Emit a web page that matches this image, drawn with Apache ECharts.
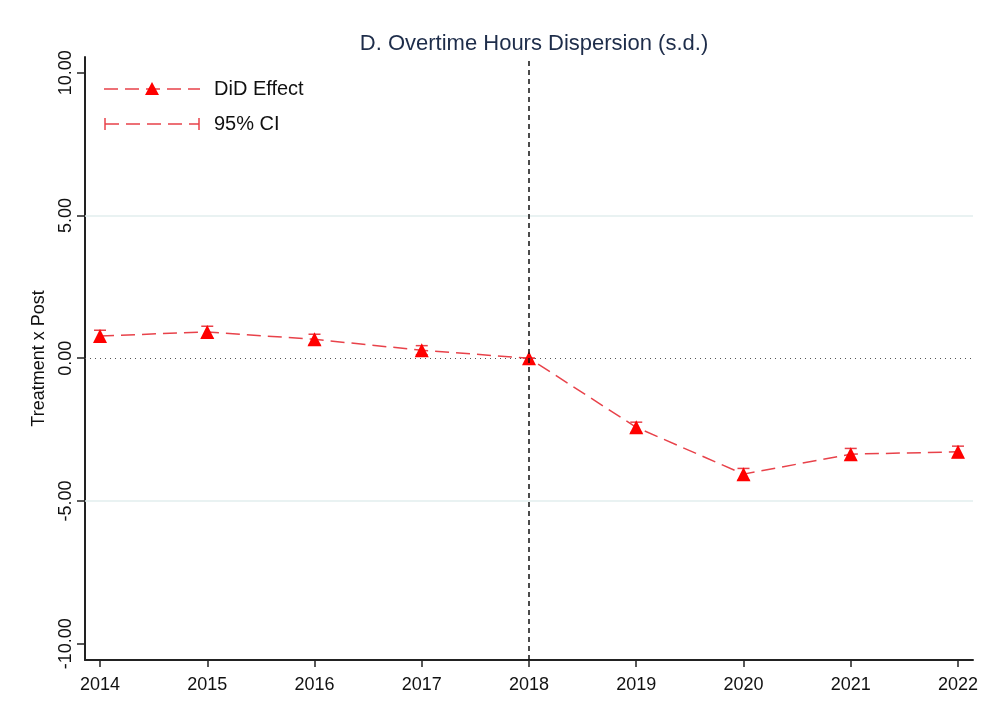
<!DOCTYPE html>
<html><head><meta charset="utf-8">
<script src="https://cdn.jsdelivr.net/npm/echarts@6/dist/echarts.min.js"></script>
<style>html,body{margin:0;padding:0;background:#fff}#c{width:1000px;height:727px}</style>
</head><body><div id="c"></div>
<script>
const years = [2014, 2015, 2016, 2017, 2018, 2019, 2020, 2021, 2022];
const effect = [0.78, 0.92, 0.66, 0.28, 0.0, -2.42, -4.06, -3.36, -3.28];
const ciLow = [0.58, 0.72, 0.48, 0.12, 0.0, -2.60, -4.26, -3.56, -3.48];
const ciHigh = [0.98, 1.12, 0.84, 0.44, 0.0, -2.24, -3.86, -3.16, -3.08];
const yTicks = [-10, -5, 0, 5, 10];
const titleText = 'D. Overtime Hours Dispersion (s.d.)';
const yName = 'Treatment x Post';
const legendNames = ['DiD Effect', '95% CI'];

const lineRed = '#e8424a';
const markRed = '#ff0000';
const FF = 'Arial, Liberation Sans';

const chart = echarts.init(document.getElementById('c'));
const ciData = years.map((y, i) => [y, ciLow[i], ciHigh[i]]);
chart.setOption({
  animation: false,
  title: { text: titleText, left: 529, top: 28, textAlign: 'center',
    textStyle: { fontFamily: FF, fontSize: 22, fontWeight: 'normal', color: '#1e2d4a' } },
  grid: { left: 85, right: 27, top: 57, bottom: 67 },
  xAxis: {
    type: 'value', min: 2013.86, max: 2022.14,
    axisLine: { show: true, onZero: false, lineStyle: { color: '#222', width: 2 } },
    axisTick: { show: true, customValues: years, length: 7, lineStyle: { color: '#222', width: 1.5 } },
    axisLabel: { customValues: years, margin: 16, fontSize: 18, color: '#111', fontFamily: FF, formatter: v => String(v) },
    splitLine: { show: false }
  },
  yAxis: {
    type: 'value', min: -10.57, max: 10.55,
    name: yName, nameLocation: 'middle', nameGap: 37, nameRotate: 90,
    nameTextStyle: { fontSize: 18, color: '#111', fontFamily: FF },
    axisLine: { show: true, onZero: false, lineStyle: { color: '#222', width: 2 } },
    axisTick: { show: true, customValues: yTicks, length: 8, lineStyle: { color: '#222', width: 1.5 } },
    axisLabel: { customValues: yTicks, rotate: 90, margin: 10, fontSize: 18, color: '#111', fontFamily: FF, formatter: v => v.toFixed(2) },
    splitLine: { show: false }
  },
  series: [
    {
      type: 'line', name: 'refs', data: [], silent: true,
      markLine: {
        symbol: 'none', silent: true, label: { show: false },
        data: [
          { yAxis: 5, lineStyle: { color: '#e2eeee', width: 1.5, type: 'solid' } },
          { yAxis: -5, lineStyle: { color: '#e2eeee', width: 1.5, type: 'solid' } },
          { yAxis: 0, lineStyle: { color: '#555', width: 1, type: [1, 4] } },
          { xAxis: 2018, lineStyle: { color: '#111', width: 1.5, type: [5, 4] } }
        ]
      }
    },
    {
      type: 'custom', name: legendNames[1], data: ciData, z: 3,
      renderItem: (params, api) => {
        const x = api.value(0);
        const lo = api.coord([x, api.value(1)]);
        const hi = api.coord([x, api.value(2)]);
        const w = 6;
        const st = { stroke: lineRed, lineWidth: 1.5 };
        return { type: 'group', children: [
          { type: 'line', shape: { x1: lo[0], y1: lo[1], x2: hi[0], y2: hi[1] }, style: st },
          { type: 'line', shape: { x1: lo[0] - w, y1: lo[1], x2: lo[0] + w, y2: lo[1] }, style: st },
          { type: 'line', shape: { x1: hi[0] - w, y1: hi[1], x2: hi[0] + w, y2: hi[1] }, style: st }
        ] };
      }
    },
    {
      type: 'line', name: legendNames[0], z: 4,
      data: years.map((y, i) => [y, effect[i]]),
      symbol: 'triangle', symbolSize: 14,
      itemStyle: { color: markRed },
      lineStyle: { color: lineRed, width: 1.5, type: [14, 7] }
    }
  ],
  graphic: [
    { type: 'line', shape: { x1: 104, y1: 89, x2: 200, y2: 89 }, style: { stroke: lineRed, lineWidth: 1.5, lineDash: [14, 7] } },
    { type: 'polygon', shape: { points: [[152, 82], [145, 95], [159, 95]] }, style: { fill: markRed } },
    { type: 'text', x: 214, y: 89, style: { text: legendNames[0], fontSize: 20, fill: '#111', fontFamily: FF, verticalAlign: 'middle' } },
    { type: 'line', shape: { x1: 105, y1: 124, x2: 199, y2: 124 }, style: { stroke: lineRed, lineWidth: 1.5, lineDash: [14, 7] } },
    { type: 'line', shape: { x1: 105, y1: 118, x2: 105, y2: 130 }, style: { stroke: lineRed, lineWidth: 1.5 } },
    { type: 'line', shape: { x1: 199, y1: 118, x2: 199, y2: 130 }, style: { stroke: lineRed, lineWidth: 1.5 } },
    { type: 'text', x: 214, y: 124, style: { text: legendNames[1], fontSize: 20, fill: '#111', fontFamily: FF, verticalAlign: 'middle' } }
  ]
});
</script></body></html>
